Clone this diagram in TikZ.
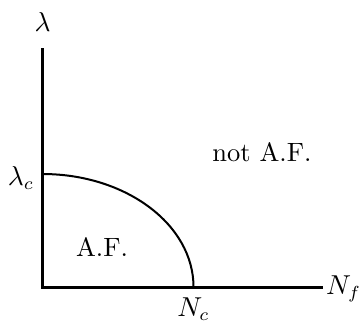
\documentclass[tikz,border=0pt]{standalone}
\begin{document}
\begin{tikzpicture}[x=0.4pt, y=0.4pt, every node/.style={font=\fontsize{10.6pt}{13pt}\selectfont}]
    \useasboundingbox (-42.5, -36) rectangle (321.5, 287);
    % Axes
    \coordinate (O) at (0, 0);
    \coordinate (top) at (0, 239);
    \coordinate (right) at (280, 0);
    \draw[line width=1.2pt] (top) -- (O) -- (right);
    \node (lambda) at (0, 265) {$\lambda$};
    \node (Nf) at (301, -2) {$N_f$};

    % Phase boundary
    \coordinate (lc) at (0, 113);
    \coordinate (nc) at (151, 0);
    \draw[line width=0.8pt] (lc) arc[start angle=90, end angle=0, x radius=151, y radius=113];
    \node (lambdac) at (-21.5, 109) {$\lambda_c$};
    \node (Nc) at (151, -22) {$N_c$};

    % Regions
    \node (af) at (59.5, 40) {A.F.};
    \node (notaf) at (219.5, 135) {not A.F.};
\end{tikzpicture}
\end{document}
